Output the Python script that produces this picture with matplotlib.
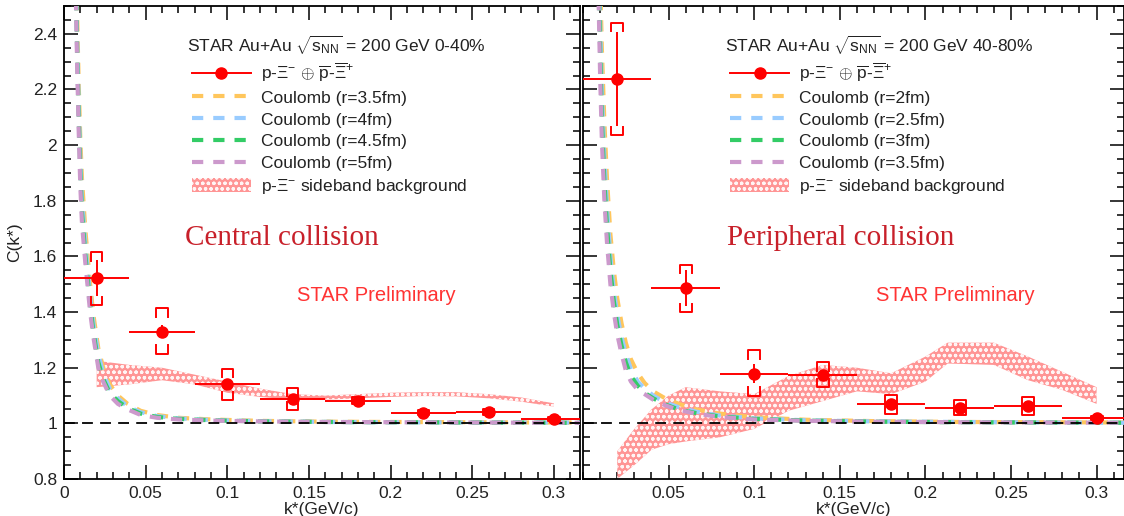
import matplotlib
matplotlib.use("Agg")
import matplotlib.pyplot as plt
from matplotlib.lines import Line2D
from matplotlib.patches import Patch
from matplotlib.ticker import MultipleLocator
import numpy as np

plt.rcParams["font.family"] = ["Liberation Sans", "DejaVu Sans"]
plt.rcParams["mathtext.fontset"] = "custom"
plt.rcParams["mathtext.rm"] = "Liberation Sans"
plt.rcParams["mathtext.it"] = "Liberation Sans:italic"
plt.rcParams["mathtext.bf"] = "Liberation Sans:bold"
plt.rcParams["hatch.linewidth"] = 0.9

# ---- central 0-40% ----
k_pts = [0.02, 0.06, 0.10, 0.14, 0.18, 0.22, 0.26, 0.30]
c_cent = [1.521, 1.330, 1.140, 1.089, 1.081, 1.039, 1.040, 1.016]
stat_cent = [0.065, 0.025, 0.020, 0.015, 0.010, 0.006, 0.006, 0.004]
syslo_cent = [1.425, 1.251, 1.083, 1.047, 1.068, 1.030, 1.030, 1.010]
syshi_cent = [1.615, 1.413, 1.197, 1.128, 1.094, 1.048, 1.050, 1.022]

band_k_cent = [0.02, 0.04, 0.06, 0.08, 0.10, 0.12, 0.14, 0.16, 0.18, 0.20, 0.22, 0.24, 0.26, 0.28, 0.30]
band_lo_cent = [1.13, 1.14, 1.155, 1.14, 1.11, 1.095, 1.085, 1.085, 1.09, 1.095, 1.098, 1.097, 1.09, 1.078, 1.06]
band_hi_cent = [1.225, 1.21, 1.20, 1.175, 1.15, 1.125, 1.105, 1.10, 1.105, 1.11, 1.112, 1.112, 1.105, 1.093, 1.072]

coul_k_cent = [0.0072, 0.008, 0.009, 0.010, 0.011, 0.013, 0.016, 0.018, 0.021, 0.024, 0.028,
               0.033, 0.039, 0.047, 0.057, 0.07, 0.09, 0.12, 0.16, 0.20, 0.25, 0.30, 0.32]
coul_cent = {
    "Coulomb (r=3.5fm)": [2.75, 2.48, 2.22, 2.02, 1.88, 1.70, 1.50, 1.39, 1.27, 1.20, 1.14, 1.10, 1.07, 1.045, 1.03,
                          1.02, 1.014, 1.009, 1.006, 1.005, 1.004, 1.003, 1.003],
    "Coulomb (r=4fm)": [2.68, 2.40, 2.15, 1.95, 1.81, 1.65, 1.46, 1.36, 1.25, 1.18, 1.125, 1.09, 1.06, 1.04, 1.026,
                        1.018, 1.012, 1.008, 1.005, 1.004, 1.003, 1.003, 1.003],
    "Coulomb (r=4.5fm)": [2.61, 2.35, 2.10, 1.90, 1.76, 1.61, 1.43, 1.33, 1.22, 1.16, 1.11, 1.08, 1.055, 1.035, 1.023,
                          1.016, 1.011, 1.007, 1.005, 1.004, 1.003, 1.002, 1.002],
    "Coulomb (r=5fm)": [2.55, 2.30, 2.05, 1.85, 1.72, 1.58, 1.40, 1.31, 1.20, 1.15, 1.10, 1.07, 1.05, 1.03, 1.02,
                        1.014, 1.01, 1.007, 1.005, 1.004, 1.003, 1.002, 1.002],
}

# ---- peripheral 40-80% ----
c_peri = [2.238, 1.487, 1.179, 1.173, 1.069, 1.055, 1.061, 1.019]
stat_peri = [0.170, 0.065, 0.033, 0.020, 0.012, 0.010, 0.010, 0.005]
syslo_peri = [2.036, 1.400, 1.099, 1.129, 1.033, 1.029, 1.029, 1.012]
syshi_peri = [2.440, 1.569, 1.263, 1.219, 1.101, 1.083, 1.095, 1.026]

band_k_peri = [0.02, 0.03, 0.04, 0.05, 0.06, 0.08, 0.10, 0.12, 0.14, 0.16, 0.18, 0.20, 0.213, 0.24, 0.26, 0.28, 0.30]
band_lo_peri = [0.80, 0.85, 0.905, 0.925, 0.935, 0.95, 0.98, 1.045, 1.08, 1.115, 1.105, 1.15, 1.215, 1.21, 1.155, 1.12, 1.07]
band_hi_peri = [0.90, 0.98, 1.05, 1.10, 1.13, 1.115, 1.105, 1.17, 1.21, 1.20, 1.18, 1.24, 1.29, 1.29, 1.24, 1.185, 1.13]

coul_k_peri = [0.009, 0.010, 0.011, 0.0125, 0.014, 0.016, 0.018, 0.020, 0.0225, 0.025, 0.028, 0.032,
               0.036, 0.041, 0.048, 0.056, 0.066, 0.08, 0.10, 0.13, 0.17, 0.22, 0.27, 0.32]
coul_peri = {
    "Coulomb (r=2fm)": [2.90, 2.60, 2.35, 2.08, 1.88, 1.68, 1.55, 1.45, 1.36, 1.29, 1.23, 1.18, 1.145, 1.115,
                        1.09, 1.07, 1.05, 1.035, 1.022, 1.013, 1.008, 1.005, 1.004, 1.003],
    "Coulomb (r=2.5fm)": [2.75, 2.45, 2.20, 1.95, 1.78, 1.60, 1.48, 1.39, 1.31, 1.25, 1.195, 1.15, 1.125, 1.10,
                          1.075, 1.058, 1.042, 1.028, 1.018, 1.011, 1.007, 1.005, 1.003, 1.002],
    "Coulomb (r=3fm)": [2.65, 2.35, 2.10, 1.87, 1.71, 1.55, 1.44, 1.355, 1.28, 1.22, 1.17, 1.135, 1.11, 1.09,
                        1.068, 1.05, 1.037, 1.025, 1.016, 1.01, 1.006, 1.004, 1.003, 1.002],
    "Coulomb (r=3.5fm)": [2.55, 2.25, 2.02, 1.80, 1.65, 1.50, 1.40, 1.32, 1.25, 1.19, 1.15, 1.12, 1.105, 1.085,
                          1.065, 1.048, 1.035, 1.023, 1.014, 1.009, 1.006, 1.004, 1.003, 1.002],
}

coul_colors = ["#ffc65c", "#99ccff", "#33cc66", "#cc99cc"]
red = "#ff0000"
band_face = "#ff8a8a"
k_half = 0.02

data_label = r"p-$\Xi^{-}$ $\oplus$ $\overline{\rm p}$-$\overline{\Xi}^{+}$"
band_label = r"p-$\Xi^{-}$ sideband background"

W, H = 1124, 516
fig = plt.figure(figsize=(W / 100, H / 100), dpi=100)
ax1 = fig.add_axes([64 / W, 1 - 479 / H, 516 / W, 473 / H])
ax2 = fig.add_axes([583 / W, 1 - 479 / H, 541 / W, 473 / H])


def draw_panel(ax, c, stat, slo, shi, bk, blo, bhi, ck, curves, header, title, leg_x, title_x, prelim_x):
    ax.set_xlim(0, 0.316)
    ax.set_ylim(0.8, 2.5)
    ax.fill_between(bk, blo, bhi, facecolor=band_face, edgecolor="white", hatch="ooo",
                    linewidth=0, alpha=0.9, zorder=2)
    for (name, vals), col in zip(curves.items(), coul_colors):
        ax.plot(ck, vals, color=col, lw=3, ls=(0, (2.7, 2.4)), zorder=3)
    ax.axhline(1.0, color="black", lw=1.3, ls=(0, (6, 4)), zorder=4)
    ax.errorbar(k_pts, c, xerr=k_half, yerr=stat, fmt="o", color=red, ms=8,
                elinewidth=1.4, capsize=0, zorder=6)
    w, t = 0.0035, 0.03
    for k, lo, hi in zip(k_pts, slo, shi):
        tt = min(t, (hi - lo) / 2)
        ax.plot([k - w, k - w, k + w, k + w], [hi - tt, hi, hi, hi - tt], color=red, lw=1.4, zorder=6)
        ax.plot([k - w, k - w, k + w, k + w], [lo + tt, lo, lo, lo + tt], color=red, lw=1.4, zorder=6)

    ax.xaxis.set_major_locator(MultipleLocator(0.05))
    ax.xaxis.set_minor_locator(MultipleLocator(0.01))
    ax.yaxis.set_major_locator(MultipleLocator(0.2))
    ax.yaxis.set_minor_locator(MultipleLocator(0.05))
    ax.tick_params(which="both", direction="in", top=True, right=True, width=1.1, labelsize=12.5, pad=5,
                   labelcolor="#222222")
    ax.tick_params(which="major", length=10)
    ax.tick_params(which="minor", length=5)
    ax.xaxis.set_major_formatter(matplotlib.ticker.FuncFormatter(lambda v, p: "%g" % round(v, 3)))
    ax.yaxis.set_major_formatter(matplotlib.ticker.FuncFormatter(lambda v, p: "%g" % round(v, 3)))
    for s in ax.spines.values():
        s.set_linewidth(1.3)
    ax.set_xlabel("k*(GeV/c)", fontsize=12.5, labelpad=1, color="#222222")

    handles = [Line2D([], [], color=red, marker="o", ms=8, lw=1.4)]
    for col in coul_colors:
        handles.append(Line2D([], [], color=col, lw=3, ls=(0, (2.7, 2.4))))
    handles.append(Patch(facecolor=band_face, edgecolor="white", hatch="ooo", linewidth=0, alpha=0.9))
    labels = [data_label] + list(curves.keys()) + [band_label]
    ax.legend(handles, labels, loc="upper left", bbox_to_anchor=(leg_x, 0.884), frameon=False,
              fontsize=12.5, borderpad=0, borderaxespad=0, handlelength=3.4, handleheight=0.9,
              handletextpad=0.6, labelspacing=0.32, labelcolor="#222222")
    ax.text(leg_x - 0.01, 0.9175, header, transform=ax.transAxes, fontsize=12.5, va="center", ha="left",
            color="#222222")
    ax.text(title_x, 0.5095, title, transform=ax.transAxes, fontsize=21, color="#c8202a",
            family="Liberation Serif", va="center", ha="left")
    ax.text(prelim_x, 0.387, "STAR Preliminary", transform=ax.transAxes, fontsize=14.5,
            color="#ff3333", va="center", ha="left")


draw_panel(ax1, c_cent, stat_cent, syslo_cent, syshi_cent, band_k_cent, band_lo_cent, band_hi_cent,
           coul_k_cent, coul_cent, r"STAR Au+Au $\sqrt{\mathrm{s}_{\mathrm{NN}}}$ = 200 GeV 0-40%",
           "Central collision", 0.2475, 0.2345, 0.4516)
draw_panel(ax2, c_peri, stat_peri, syslo_peri, syshi_peri, band_k_peri, band_lo_peri, band_hi_peri,
           coul_k_peri, coul_peri, r"STAR Au+Au $\sqrt{\mathrm{s}_{\mathrm{NN}}}$ = 200 GeV 40-80%",
           "Peripheral collision", 0.2717, 0.266, 0.5416)

ax1.set_ylabel("C(k*)", fontsize=12.5, labelpad=8, color="#222222")
ax2.tick_params(labelleft=False)
ax2.set_xticks([0.05, 0.1, 0.15, 0.2, 0.25, 0.3])
ax2.xaxis.set_minor_locator(MultipleLocator(0.01))

fig.savefig("out.png", dpi=100)
